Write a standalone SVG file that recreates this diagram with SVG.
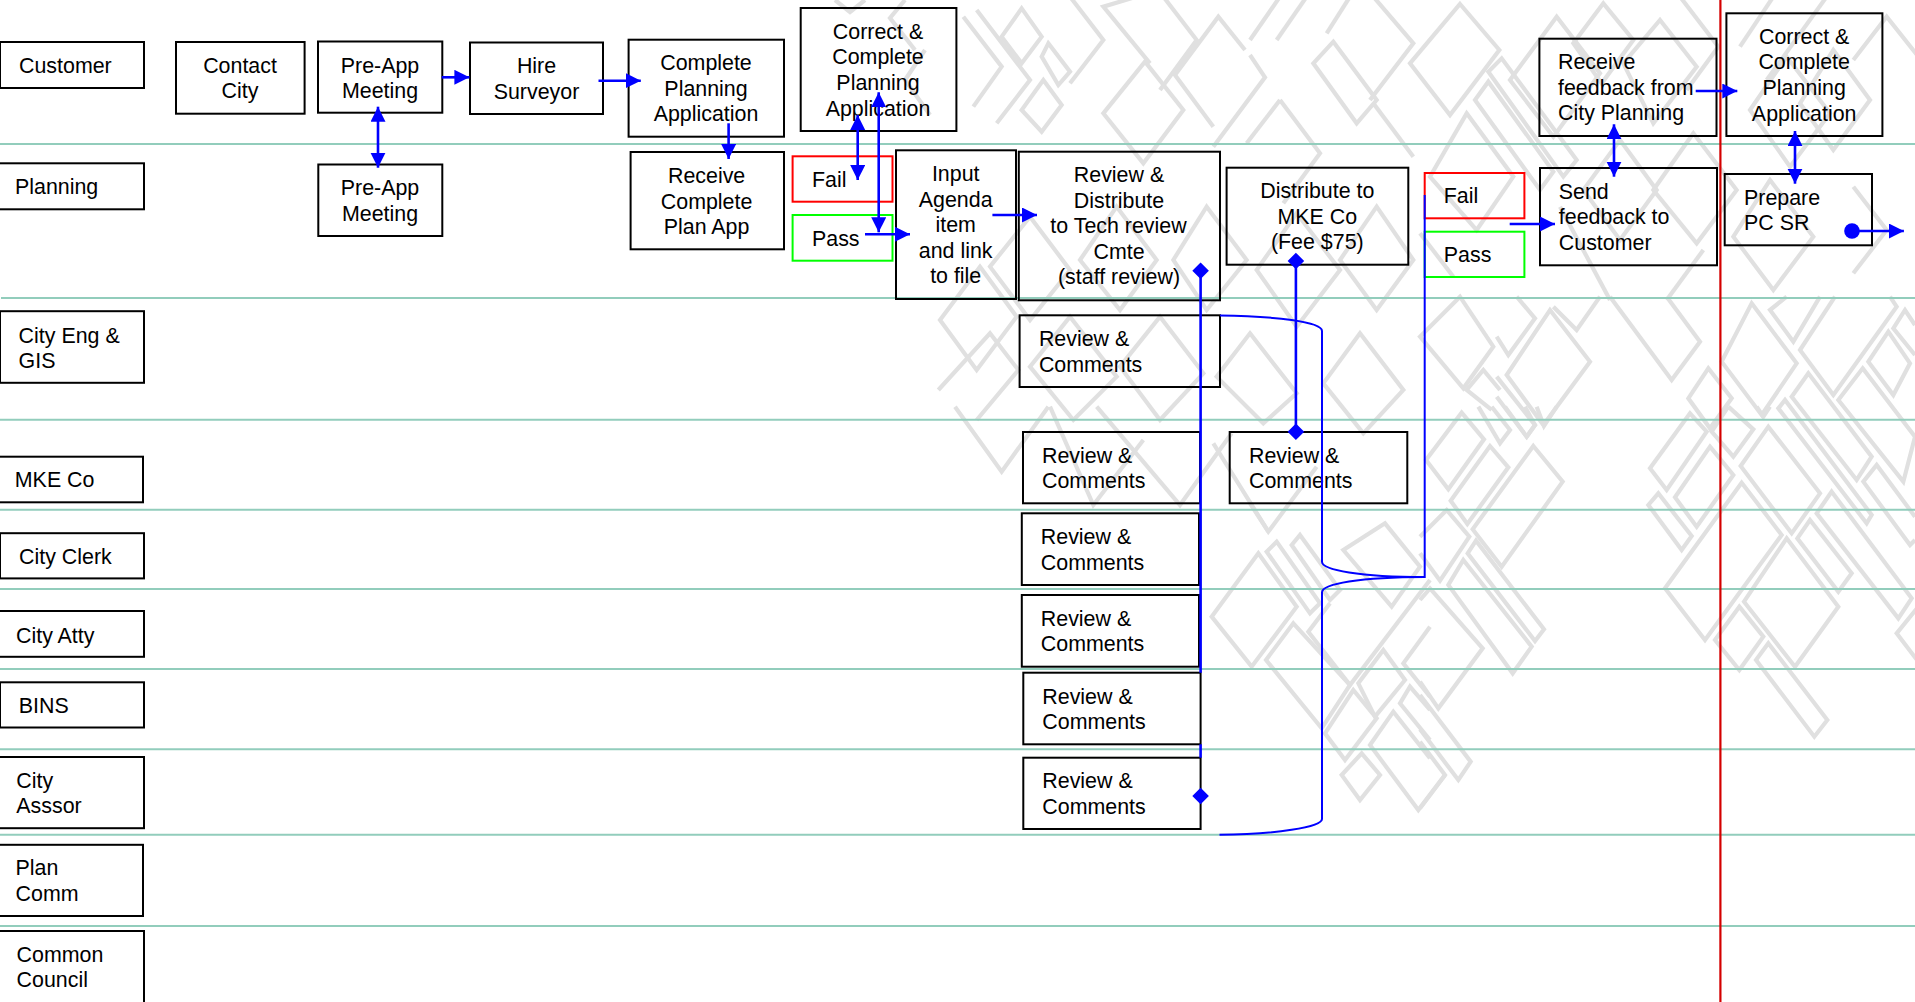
<svg xmlns="http://www.w3.org/2000/svg" width="1915" height="1002" viewBox="0 0 1915 1002">
<style>
text{font-family:"Liberation Sans",Arial,sans-serif;font-size:21.4px;fill:#000}
.c{text-anchor:middle}
.b{fill:none;stroke:#000;stroke-width:2}
.f{fill:none;stroke:#f00;stroke-width:2}
.g{fill:none;stroke:#0f0;stroke-width:2}
.w polygon,.w polyline{fill:none;stroke:#e0e0e0;stroke-width:12.5}
.lane{stroke:#92cdbc;stroke-width:2}
.k{fill:none;stroke:#00f;stroke-width:2.6}
.t{fill:none;stroke:#00f;stroke-width:2}
.ar{marker-end:url(#tip)}
.dbl{marker-start:url(#tip);marker-end:url(#tip)}
</style>
<defs>
<marker id="tip" markerUnits="userSpaceOnUse" markerWidth="16" markerHeight="16" refX="15" refY="7.5" orient="auto-start-reverse"><path d="M0 0L15 7.5L0 15z" fill="#00f"/></marker>
<marker id="dia" markerUnits="userSpaceOnUse" markerWidth="18" markerHeight="18" refX="9" refY="9" orient="0"><path d="M9 .7L17.3 9L9 17.3L.7 9z" fill="#00f"/></marker>
<marker id="dot" markerUnits="userSpaceOnUse" markerWidth="16" markerHeight="16" refX="8" refY="8" orient="0"><circle cx="8" cy="8" r="7.8" fill="#00f"/></marker>
</defs>
<rect width="1915" height="1002" fill="#fff"/>
<g id="watermark" class="w">
<g transform="translate(1420 410) scale(.33333)">
<polygon points="125,8 192,88 85,238 18,150"/>
<polygon points="210,108 265,172 142,342 92,272"/>
<polygon points="340,108 428,215 245,470 158,358"/>
<polyline points="175,-10 240,100 270,60 215,-10"/>
<polyline points="255,-10 320,80 345,45 315,-10"/>
<polyline points="350,-10 372,48 410,-10"/>
<polyline points="0,380 80,300 148,380 60,512 0,430"/>
<polygon points="143,430 168,392 372,658 345,693"/>
<polygon points="130,450 335,710 278,790 85,525"/>
<polyline points="0,570 30,535 188,715 55,895 0,815"/>
<polyline points="0,855 152,1055 115,1110 0,958"/>
<polyline points="0,995 75,1095 0,1195"/>
<polygon points="810,10 860,65 740,240 690,175"/>
<polygon points="870,110 940,195 830,350 765,262"/>
<polygon points="715,250 815,378 785,420 685,285"/>
<polyline points="925,-10 1000,58 940,140 875,65 925,-10"/>
<polygon points="1045,50 1200,250 1115,370 962,168"/>
<polygon points="965,218 1085,375 855,690 735,535"/>
<polygon points="958,590 1030,680 958,780 885,690"/>
<polygon points="1100,385 1255,590 1125,770 972,575"/>
<polygon points="1170,330 1295,490 1255,545 1132,385"/>
<polygon points="1045,700 1222,930 1183,980 1008,750"/>
<polygon points="1235,245 1475,565 1435,625 1190,310"/>
<polyline points="1495,590 1430,670 1495,755"/>
<polyline points="1010,-10 1030,20 1050,-10"/>
</g>
<g transform="translate(1500 300) scale(.33333)">
<polygon points="150,30 270,185 130,375 20,225"/>
<polyline points="-10,110 25,165 105,55 50,-10"/>
<polyline points="160,20 230,90 300,-10"/>
<polyline points="-10,290 80,410 105,375 -10,230"/>
<polyline points="330,-10 515,240 600,125 500,-10"/>
<polygon points="625,205 695,295 630,385 565,295"/>
<polygon points="755,10 890,190 785,345 665,185"/>
<polyline points="860,-10 810,30 880,125 960,-10"/>
<polyline points="1005,-10 900,150 1000,285 1190,20 1170,-10"/>
<polygon points="875,290 925,220 1115,470 1070,540"/>
<polygon points="835,325 855,300 1115,645 1100,670"/>
<polygon points="1088,205 1245,410 1210,545 1015,300"/>
<polygon points="1165,95 1230,190 1180,285 1105,185"/>
<polyline points="1245,75 1215,30 1180,85 1245,165"/>
<polyline points="1245,650 1130,495 1090,545 1230,735 1245,720"/>
</g>
<g transform="translate(1420 0) scale(.33333)">
<polygon points="120,12 238,150 90,345 -30,190"/>
<polygon points="270,240 410,50 540,220 400,410"/>
<polygon points="205,215 245,175 470,480 430,530"/>
<polygon points="165,300 205,245 400,515 360,570"/>
<polygon points="140,340 280,530 170,690 30,530"/>
<polygon points="460,130 550,10 640,120 545,250"/>
<polygon points="610,190 720,60 830,200 700,370"/>
<polyline points="780,-10 895,140 800,270"/>
<polyline points="960,140 1060,-10"/>
<polyline points="1040,240 1220,-10"/>
<polygon points="1100,170 1230,340 1110,500 990,330"/>
<polygon points="1240,150 1350,300 1240,450 1140,310"/>
<polyline points="1495,170 1400,50 1300,180"/>
<polygon points="600,420 710,570 600,720 490,570"/>
<polygon points="820,400 950,570 830,730 700,570"/>
<polygon points="1050,540 1180,710 1060,870 940,710"/>
<polyline points="1300,560 1400,690 1300,820"/>
<polyline points="420,620 570,900"/>
<polyline points="740,900 850,750"/>
<polygon points="0,1010 120,890 220,1040 130,1165"/>
<polyline points="215,1230 140,1170 190,1110 240,1170"/>
<polyline points="0,700 100,830"/>
</g>
<g transform="translate(930 410) scale(.33333)">
<polyline points="75,-10 215,185 355,-10"/>
<polyline points="360,-10 490,285 640,90"/>
<polyline points="500,-10 750,285 905,70"/>
<polyline points="850,100 1015,365 1160,170"/>
<polyline points="960,280 1015,365"/>
<polygon points="985,430 1100,590 965,770 845,620"/>
<polygon points="1040,395 1170,580 1140,610 1010,425"/>
<polygon points="1110,375 1230,540 1200,570 1085,405"/>
<polygon points="1090,640 1260,825 1175,955 1008,750"/>
<polyline points="1200,580 1135,665 1260,825 1500,510"/>
<polygon points="1365,340 1470,470 1385,590 1240,420"/>
<polygon points="1360,720 1425,810 1335,920 1285,820"/>
<polygon points="1270,840 1340,925 1245,1050 1185,970"/>
<polyline points="1500,900 1440,830 1410,880 1500,990"/>
<polyline points="1500,1045 1390,905 1320,1005 1465,1200 1545,1095"/>
<polygon points="1295,1030 1350,1095 1290,1170 1235,1095"/>
<polyline points="1500,650 1420,760 1500,860"/>
</g>
<g transform="translate(930 0) scale(.33333)">
<polygon points="275,25 335,110 275,190 215,110"/>
<polygon points="355,130 420,215 385,255 335,170"/>
<polygon points="340,240 395,315 335,395 275,330"/>
<polyline points="100,50 215,200 130,320"/>
<polyline points="140,30 300,240 200,370"/>
<polygon points="645,185 760,330 640,490 520,340"/>
<polyline points="945,150 865,50 735,225 850,380"/>
<polyline points="960,165 1005,232 850,440"/>
<polygon points="1150,190 1210,125 1340,300 1280,370"/>
<polyline points="1050,300 1170,460 1060,610"/>
<polyline points="1050,300 950,430"/>
<polyline points="1330,310 1450,470"/>
<polyline points="1040,120 1130,-10"/>
<polyline points="960,120 1050,-10"/>
<polyline points="1190,100 1260,-10"/>
<polyline points="420,-10 520,120 420,250"/>
<polyline points="620,-10 520,20 660,190"/>
<polyline points="700,-10 800,120 690,270"/>
<polyline points="1330,-10 1450,130 1320,300"/>
<polygon points="30,960 150,800 260,950 140,1110"/>
<polyline points="25,1170 180,1000 265,1110 140,1260"/>
<polygon points="300,650 420,810 300,960 180,800"/>
<polygon points="560,620 680,780 570,930 450,780"/>
<polygon points="830,620 950,780 830,930 730,780"/>
<polygon points="1100,640 1230,810 1100,980 980,810"/>
<polygon points="1340,620 1450,780 1340,930 1230,780"/>
<polygon points="420,950 560,1130 430,1260 300,1100"/>
<polygon points="690,950 820,1120 690,1260 570,1100"/>
<polygon points="960,1000 1100,1180 1000,1270 860,1130"/>
<polygon points="1290,1000 1420,1170 1300,1300 1180,1150"/>
</g>
<polyline points="835,0 850,12 865,0" style="stroke-width:4.2"/>
<polyline points="905,0 890,18 915,50" style="stroke-width:4.2"/>
<polyline points="925,50 905,80 930,115" style="stroke-width:4.2"/>
</g>
<g id="lanes">
<line class="lane" x1="0" x2="1915" y1="144" y2="144"/>
<line class="lane" x1="1" x2="1915" y1="298" y2="298"/>
<line class="lane" x1="0" x2="1915" y1="419.7" y2="419.7"/>
<line class="lane" x1="0" x2="1915" y1="509.7" y2="509.7"/>
<line class="lane" x1="0" x2="1915" y1="589" y2="589"/>
<line class="lane" x1="0" x2="1915" y1="669" y2="669"/>
<line class="lane" x1="0" x2="1915" y1="749.3" y2="749.3"/>
<line class="lane" x1="0" x2="1915" y1="834.7" y2="834.7"/>
<line class="lane" x1="0" x2="1915" y1="926" y2="926"/>
<line x1="1720.4" x2="1720.4" y1="0" y2="1002" stroke="#d40000" stroke-width="2.2"/>
</g>
<g id="lane-labels">
<g id="l-customer"><rect class="b" x="0" y="42" width="144" height="46"/><text x="19" y="72.7">Customer</text></g>
<g id="l-planning"><rect class="b" x="-2" y="163.3" width="146" height="46"/><text x="15" y="194">Planning</text></g>
<g id="l-cityeng"><rect class="b" x="0" y="311.2" width="144" height="71.6"/><text x="18.6" y="343.4">City Eng &amp;</text><text x="18.6" y="367.5">GIS</text></g>
<g id="l-mke"><rect class="b" x="-2" y="456.7" width="145" height="45.6"/><text x="14.8" y="487">MKE Co</text></g>
<g id="l-clerk"><rect class="b" x="0" y="533.2" width="144" height="45.2"/><text x="19" y="564">City Clerk</text></g>
<g id="l-atty"><rect class="b" x="-2" y="611" width="146" height="45.8"/><text x="16" y="642.5">City Atty</text></g>
<g id="l-bins"><rect class="b" x="0" y="682.3" width="144" height="45.2"/><text x="18.8" y="713">BINS</text></g>
<g id="l-asssor"><rect class="b" x="-2" y="757" width="146" height="71.2"/><text x="16.3" y="788.3">City</text><text x="16.3" y="813.4">Asssor</text></g>
<g id="l-plan"><rect class="b" x="-2" y="844.8" width="145" height="71.2"/><text x="15.6" y="875">Plan</text><text x="15.6" y="900.5">Comm</text></g>
<g id="l-council"><rect class="b" x="-2" y="931" width="146" height="80"/><text x="16.6" y="961.5">Common</text><text x="16.6" y="987">Council</text></g>
</g>
<g id="nodes">
<g id="contact"><rect class="b" x="176" y="42" width="128.6" height="71.7"/><text class="c" x="240" y="73">Contact</text><text class="c" x="240" y="98">City</text></g>
<g id="preapp1"><rect class="b" x="318" y="41.5" width="124.3" height="71.2"/><text class="c" x="380" y="72.5">Pre-App</text><text class="c" x="380" y="98">Meeting</text></g>
<g id="hire"><rect class="b" x="470" y="42.5" width="133" height="71.5"/><text class="c" x="536.5" y="73">Hire</text><text class="c" x="536.5" y="99">Surveyor</text></g>
<g id="complete"><rect class="b" x="628.6" y="39.7" width="155.4" height="97"/><text class="c" x="706" y="70">Complete</text><text class="c" x="706" y="96">Planning</text><text class="c" x="706" y="121">Application</text></g>
<g id="preapp2"><rect class="b" x="318.3" y="164.5" width="124" height="71.5"/><text class="c" x="380" y="195">Pre-App</text><text class="c" x="380" y="221">Meeting</text></g>
<g id="receive"><rect class="b" x="630.6" y="152" width="153.4" height="97.3"/><text class="c" x="706.6" y="183.3">Receive</text><text class="c" x="706.6" y="209">Complete</text><text class="c" x="706.6" y="234.3">Plan App</text></g>
<g id="correct1"><rect class="b" x="800.7" y="8" width="155.7" height="123"/><text class="c" x="878" y="39.3">Correct &amp;</text><text class="c" x="878" y="64.3">Complete</text><text class="c" x="878" y="90">Planning</text><text class="c" x="878" y="116">Application</text></g>
<g id="fail1"><rect class="f" x="792.6" y="156.3" width="99.9" height="45.4"/><text x="812" y="187.3">Fail</text></g>
<g id="pass1"><rect class="g" x="792.6" y="215" width="99.9" height="45.7"/><text x="812" y="246">Pass</text></g>
<g id="input"><rect class="b" x="896" y="150.3" width="120" height="148.7"/><text class="c" x="955.7" y="181.3">Input</text><text class="c" x="955.7" y="206.7">Agenda</text><text class="c" x="955.7" y="232">item</text><text class="c" x="955.7" y="258">and link</text><text class="c" x="955.7" y="283.3">to file</text></g>
<g id="distribute"><rect class="b" x="1018.8" y="151.7" width="201.2" height="148.6"/><text class="c" x="1119" y="182">Review &amp;</text><text class="c" x="1119" y="207.7">Distribute</text><text class="c" x="1118.5" y="233.3">to Tech review</text><text class="c" x="1119" y="258.7">Cmte</text><text class="c" x="1119" y="284">(staff review)</text></g>
<g id="mkefee"><rect class="b" x="1226.6" y="167.7" width="181.7" height="97"/><text class="c" x="1317.3" y="198.3">Distribute to</text><text class="c" x="1317.3" y="224">MKE Co</text><text class="c" x="1317.3" y="249">(Fee $75)</text></g>
<g id="fail2"><rect class="f" x="1424.7" y="173" width="99.7" height="45.3"/><text x="1443.8" y="203">Fail</text></g>
<g id="pass2"><rect class="g" x="1424.7" y="231.7" width="99.7" height="45.3"/><text x="1443.8" y="262">Pass</text></g>
<g id="feedback"><rect class="b" x="1539.4" y="38.7" width="177.1" height="97.3"/><text x="1558" y="69">Receive</text><text x="1558" y="95">feedback from</text><text x="1558" y="120">City Planning</text></g>
<g id="send"><rect class="b" x="1540" y="168" width="177" height="97.3"/><text x="1558.8" y="199">Send</text><text x="1558.8" y="224.3">feedback to</text><text x="1558.8" y="250.3">Customer</text></g>
<g id="correct2"><rect class="b" x="1726.4" y="13.3" width="156" height="122.7"/><text class="c" x="1804.2" y="44">Correct &amp;</text><text class="c" x="1804.2" y="69">Complete</text><text class="c" x="1804.2" y="95">Planning</text><text class="c" x="1804.2" y="121">Application</text></g>
<g id="prepare"><rect class="b" x="1724.7" y="174" width="147.3" height="71.3"/><text x="1744" y="204.7">Prepare</text><text x="1744" y="229.7">PC SR</text></g>
<g id="rc-eng"><rect class="b" x="1019.6" y="315.3" width="200.4" height="71.7"/><text x="1038.9" y="346">Review &amp;</text><text x="1038.9" y="372">Comments</text></g>
<g id="rc-mke"><rect class="b" x="1023" y="432" width="177" height="71.3"/><text x="1042" y="463">Review &amp;</text><text x="1042" y="488.3">Comments</text></g>
<g id="rc-mke2"><rect class="b" x="1229.7" y="432" width="177.6" height="71.3"/><text x="1249" y="463">Review &amp;</text><text x="1249" y="488.3">Comments</text></g>
<g id="rc-clerk"><rect class="b" x="1021.8" y="513.3" width="177.2" height="71.7"/><text x="1040.8" y="544">Review &amp;</text><text x="1040.8" y="570">Comments</text></g>
<g id="rc-atty"><rect class="b" x="1021.8" y="595" width="177.2" height="71.7"/><text x="1040.8" y="626">Review &amp;</text><text x="1040.8" y="651">Comments</text></g>
<g id="rc-bins"><rect class="b" x="1023.3" y="672.7" width="177.3" height="71.6"/><text x="1042.3" y="704">Review &amp;</text><text x="1042.3" y="729">Comments</text></g>
<g id="rc-asssor"><rect class="b" x="1023.3" y="757.7" width="177.3" height="71.3"/><text x="1042.3" y="788">Review &amp;</text><text x="1042.3" y="814">Comments</text></g>
</g>
<g id="connectors">
<line class="k ar" x1="441.8" y1="77.3" x2="469.4" y2="77.3"/>
<line class="k ar" x1="598.5" y1="80.7" x2="640.8" y2="80.7"/>
<line class="k dbl" x1="378" y1="106.7" x2="378" y2="167.7"/>
<line class="k ar" x1="728.6" y1="123.3" x2="728.6" y2="159"/>
<line class="k dbl" x1="857.7" y1="115" x2="857.7" y2="180"/>
<line class="k dbl" x1="878.7" y1="92.3" x2="878.7" y2="232.3"/>
<line class="k ar" x1="865" y1="234.3" x2="910" y2="234.3"/>
<line class="k ar" x1="992.4" y1="215" x2="1037" y2="215"/>
<line class="k ar" x1="1509.7" y1="224" x2="1555" y2="224"/>
<line class="k dbl" x1="1614" y1="124.3" x2="1614" y2="176.7"/>
<line class="k ar" x1="1695.7" y1="91" x2="1737.3" y2="91"/>
<line class="k dbl" x1="1795" y1="131" x2="1795" y2="183.7"/>
<line class="k ar" x1="1852" y1="231" x2="1903.9" y2="231" style="marker-start:url(#dot)"/>
<line class="k" x1="1200.6" y1="270.7" x2="1200.6" y2="672.7" style="marker-start:url(#dia)"/>
<line class="k" x1="1200.6" y1="744.3" x2="1200.6" y2="757.7"/>
<line class="k" x1="1200.6" y1="796" x2="1200.6" y2="796.1" style="marker-start:url(#dia)"/>
<line class="k" x1="1295.9" y1="261" x2="1295.9" y2="431.7" style="marker-start:url(#dia);marker-end:url(#dia)"/>
<path class="t" d="M1220 315.5C1275 316 1322 322 1322 331V561.7C1322 570 1360 577 1424.7 577C1360 577 1322 584 1322 592.3V819C1322 827 1275 834.7 1219.5 834.7"/>
<path class="t" d="M1424.7 195V578"/>
</g>
</svg>
